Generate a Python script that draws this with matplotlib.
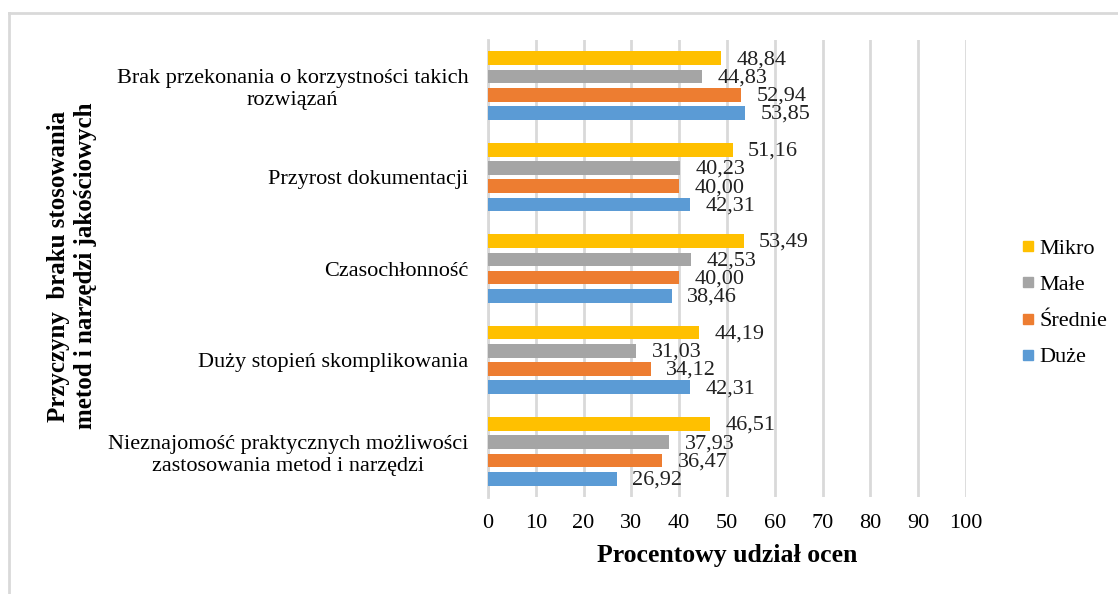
import numpy as np
import matplotlib.pyplot as plt
from matplotlib.lines import Line2D

plt.rcParams['font.family'] = ['Liberation Serif', 'DejaVu Serif']

kategorie = ['Brak przekonania o korzystności takich\nrozwiązań',
             'Przyrost dokumentacji',
             'Czasochłonność',
             'Duży stopień skomplikowania',
             'Nieznajomość praktycznych możliwości\nzastosowania metod i narzędzi']

mikro = [48.84, 51.16, 53.49, 44.19, 46.51]
male = [44.83, 40.23, 42.53, 31.03, 37.93]
srednie = [52.94, 40.00, 40.00, 34.12, 36.47]
duze = [53.85, 42.31, 38.46, 42.31, 26.92]

serie = [('Mikro', mikro, '#ffc000'),
         ('Małe', male, '#a5a5a5'),
         ('Średnie', srednie, '#ed7d31'),
         ('Duże', duze, '#5b9bd5')]

fig = plt.figure(figsize=(11.18, 5.94), dpi=100)
ax = fig.add_axes([488/1118, 1-497/594, 478/1118, 457/594])

y = np.arange(len(kategorie))
h = 0.15
for i, (nazwa, wart, kolor) in enumerate(serie):
    pos = y - 0.3 + i*0.2
    ax.barh(pos, wart, height=h, color=kolor, label=nazwa, zorder=3)
    for p, v in zip(pos, wart):
        ax.annotate(f'{v:.2f}'.replace('.', ','), (v, p), xytext=(11, -1),
                    textcoords='offset points', va='center', ha='left',
                    fontsize=16, color='#222222', zorder=4)

ax.set_xlim(0, 100)
ax.set_ylim(len(kategorie) - 0.5, -0.5)
ax.set_xticks(range(0, 101, 10))
ax.set_yticks(y)
ax.set_yticklabels(kategorie, fontsize=16, ha='right', multialignment='center',
                   linespacing=1.2)
ax.tick_params(axis='y', length=0, pad=14)
ax.tick_params(axis='x', length=0, pad=12, labelsize=16)
ax.grid(axis='x', color='#d9d9d9', linewidth=2, zorder=0)
for s in ['top', 'right', 'bottom']:
    ax.spines[s].set_visible(False)
ax.spines['left'].set_color('#d9d9d9')
ax.spines['left'].set_linewidth(2)

ax.set_xlabel('Procentowy udział ocen', fontsize=18.5, fontweight='bold', labelpad=8)
fig.text(72/1118, 1-266/594, 'Przyczyny  braku stosowania\nmetod i narzędzi jakościowych',
         rotation=90, ha='center', va='center', fontsize=18, fontweight='bold',
         linespacing=1.25)

uchwyty = [Line2D([], [], marker='s', ls='', color=k, markersize=7.5) for _, _, k in serie]
fig.legend(uchwyty, [n for n, _, _ in serie], loc='center left',
           bbox_to_anchor=(997/1118, 1-303/594), frameon=False,
           prop={'family': 'Liberation Serif', 'size': 16},
           handletextpad=0.0, labelspacing=0.7, handlelength=1.0)

# ramka wokół wykresu
fig.add_artist(Line2D([8.5/1118, 8.5/1118], [0, 1-13/594], color='#d9d9d9', lw=2))
fig.add_artist(Line2D([8.5/1118, 1117/1118], [1-13/594, 1-13/594], color='#d9d9d9', lw=2))

fig.savefig('out.png', dpi=100)
